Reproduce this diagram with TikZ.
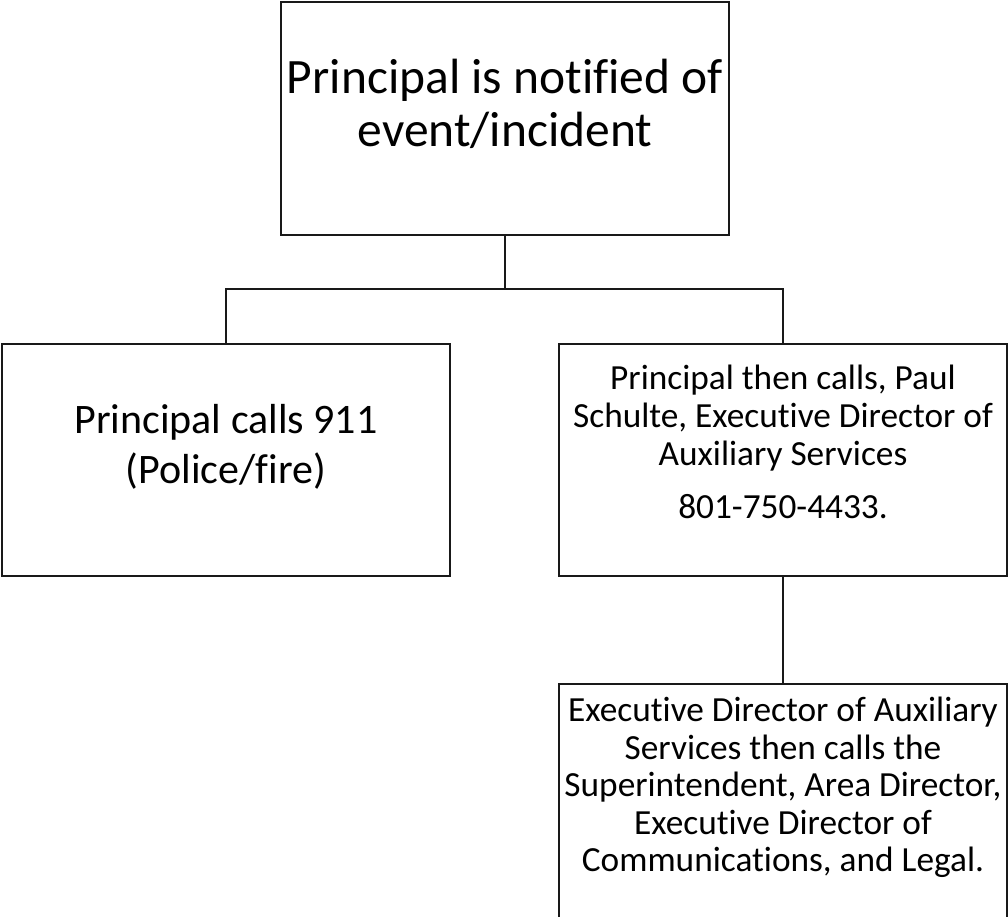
\documentclass[tikz,border=0pt]{standalone}
\usepackage{fontspec}
\setmainfont{Carlito}[Ligatures=NoCommon]
\begin{document}
\begin{tikzpicture}[x=1pt,y=-1pt,
  box/.style={draw=black!90, line width=1.8pt, rectangle, inner sep=0pt},
  conn/.style={draw=black!90, line width=1.8pt},
  txt/.style={align=center, inner sep=0pt, anchor=north}]
\useasboundingbox (0,0) rectangle (1008,916);
% boxes
\node[box, minimum width=448, minimum height=233] (top) at (505,118.5) {};
\node[box, minimum width=448, minimum height=232] (left) at (226,460) {};
\node[box, minimum width=448, minimum height=232] (right) at (783,460) {};
\node[box, minimum width=448, minimum height=236] (bottom) at (783,802) {};
% texts
\node[txt, font=\fontsize{49.5}{53}\selectfont] (ttop) at (505,59) {Principal is notified of\\event/incident};
\node[txt, font=\fontsize{42}{50}\selectfont] (tleft) at (226,404.5) {Principal calls 911\\(Police/fire)};
\node[txt, font=\fontsize{35.3}{38}\selectfont] (tright) at (783,365) {Principal then calls, Paul\\Schulte, Executive Director of\\Auxiliary Services\\[15pt]801-750-4433.};
\node[txt, font=\fontsize{35.3}{37.5}\selectfont] (tbottom) at (783,697) {Executive Director of Auxiliary\\Services then calls the\\Superintendent, Area Director,\\Executive Director of\\Communications, and Legal.};
% connectors
\coordinate (j) at (505,289);
\draw[conn] (top.south) -- (j);
\draw[conn] (left.north) |- (j) -| (right.north);
\draw[conn] (right.south) -- (bottom.north);
\end{tikzpicture}
\end{document}
